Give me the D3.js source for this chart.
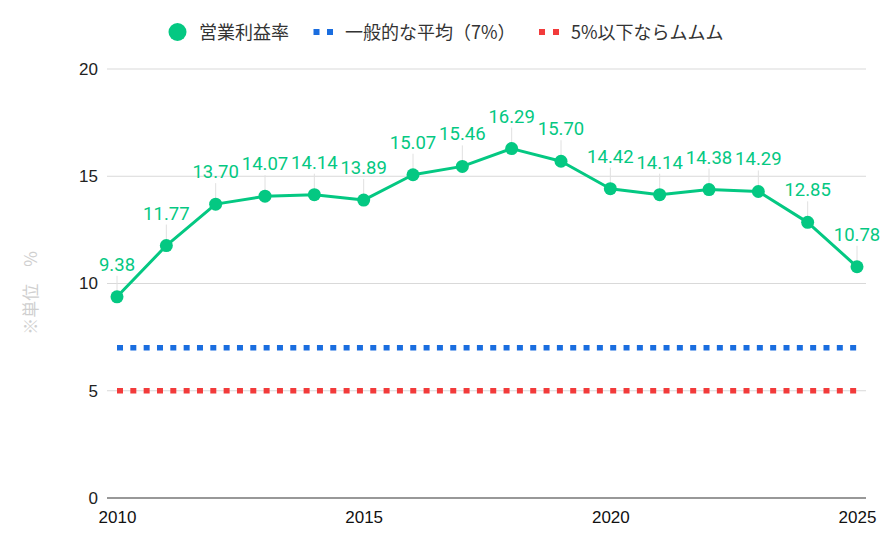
<!DOCTYPE html>
<html><head><meta charset="utf-8">
<script src="https://cdn.jsdelivr.net/npm/d3@7"></script>
<style>body{margin:0;background:#fff}svg{display:block}</style>
</head><body><svg id="c" width="892" height="551"></svg>
<script>
const years = [2010,2011,2012,2013,2014,2015,2016,2017,2018,2019,2020,2021,2022,2023,2024,2025];
const margin = [9.38,11.77,13.70,14.07,14.14,13.89,15.07,15.46,16.29,15.70,14.42,14.14,14.38,14.29,12.85,10.78];
const avgLine = 7;
const lowLine = 5;
const yTicks = [0,5,10,15,20];
const xTicks = [2010,2015,2020,2025];
const seriesNames = ["営業利益率","一般的な平均（7%）","5%以下ならムムム"];
const yLabel = "※単位　%";

const green = "#04c882", blue = "#1a6ddf", red = "#f23b3b";
const jp = "'Noto Sans CJK JP','Noto Sans',sans-serif";
const arial = "Arial, 'Liberation Sans', sans-serif";
const svg = d3.select("#c");
const x = d3.scaleLinear().domain([2010,2025]).range([117,857]);
const y = d3.scaleLinear().domain([0,20]).range([498,69]);

svg.append("g").attr("transform","translate(107,0)").call(
  d3.axisLeft(y).tickValues(yTicks).tickSize(0).tickPadding(9).tickFormat(d3.format("d")))
  .call(g=>{g.select(".domain").remove();g.selectAll("text").attr("font-family",arial).attr("font-size",17).attr("fill","#222");});
svg.append("g").selectAll("line").data(yTicks).join("line")
  .attr("x1",107).attr("x2",866).attr("y1",d=>y(d)).attr("y2",d=>y(d))
  .attr("stroke",d=>d===0?"#333":"#d9d9d9").attr("stroke-width",1.2);

svg.append("g").attr("transform","translate(0,498)").call(
  d3.axisBottom(x).tickValues(xTicks).tickSize(0).tickPadding(13).tickFormat(d3.format("d")))
  .call(g=>{g.select(".domain").remove();g.selectAll("text").attr("font-family",arial).attr("font-size",17).attr("fill","#111");});

svg.append("text").attr("transform","translate(37,293) rotate(-90)").attr("text-anchor","middle")
  .attr("font-family",jp).attr("font-size",17).attr("fill","#cfcfcf").text(yLabel);

[[avgLine,blue],[lowLine,red]].forEach(([v,c])=>{
  svg.append("line").attr("x1",x(2010)).attr("x2",x(2025)).attr("y1",y(v)).attr("y2",y(v))
    .attr("stroke",c).attr("stroke-width",5.5).attr("stroke-dasharray","6 7.33");
});

const data = years.map((yr,i)=>({yr,v:margin[i]}));
svg.append("g").selectAll("line").data(data).join("line")
  .attr("x1",d=>x(d.yr)).attr("x2",d=>x(d.yr)).attr("y1",d=>y(d.v)-21).attr("y2",d=>y(d.v)-4)
  .attr("stroke","#e0e0e0").attr("stroke-width",1);
svg.append("path").datum(data).attr("fill","none").attr("stroke",green).attr("stroke-width",3)
  .attr("stroke-linejoin","round")
  .attr("d",d3.line().x(d=>x(d.yr)).y(d=>y(d.v)));
svg.append("g").selectAll("circle").data(data).join("circle")
  .attr("cx",d=>x(d.yr)).attr("cy",d=>y(d.v)).attr("r",6.5).attr("fill",green);
svg.append("g").selectAll("text").data(data).join("text")
  .attr("x",d=>x(d.yr)).attr("y",d=>y(d.v)-26).attr("text-anchor","middle")
  .attr("font-family","Roboto, sans-serif").attr("font-size",18.5).attr("fill",green)
  .text(d=>d.v.toFixed(2));

const lg = svg.append("g").attr("font-family",jp).attr("font-size",18).attr("fill","#333");
lg.append("circle").attr("cx",177.5).attr("cy",32).attr("r",9).attr("fill",green);
lg.append("text").attr("x",199).attr("y",38.5).text(seriesNames[0]);
[[313.5,blue],[327,blue]].forEach(([px,c])=>lg.append("rect").attr("x",px).attr("y",29).attr("width",6).attr("height",6).attr("fill",c));
lg.append("text").attr("x",345).attr("y",38.5).text(seriesNames[1]);
[[539,red],[553,red]].forEach(([px,c])=>lg.append("rect").attr("x",px).attr("y",29).attr("width",6).attr("height",6).attr("fill",c));
lg.append("text").attr("x",571).attr("y",38.5).text(seriesNames[2]);
</script></body></html>
